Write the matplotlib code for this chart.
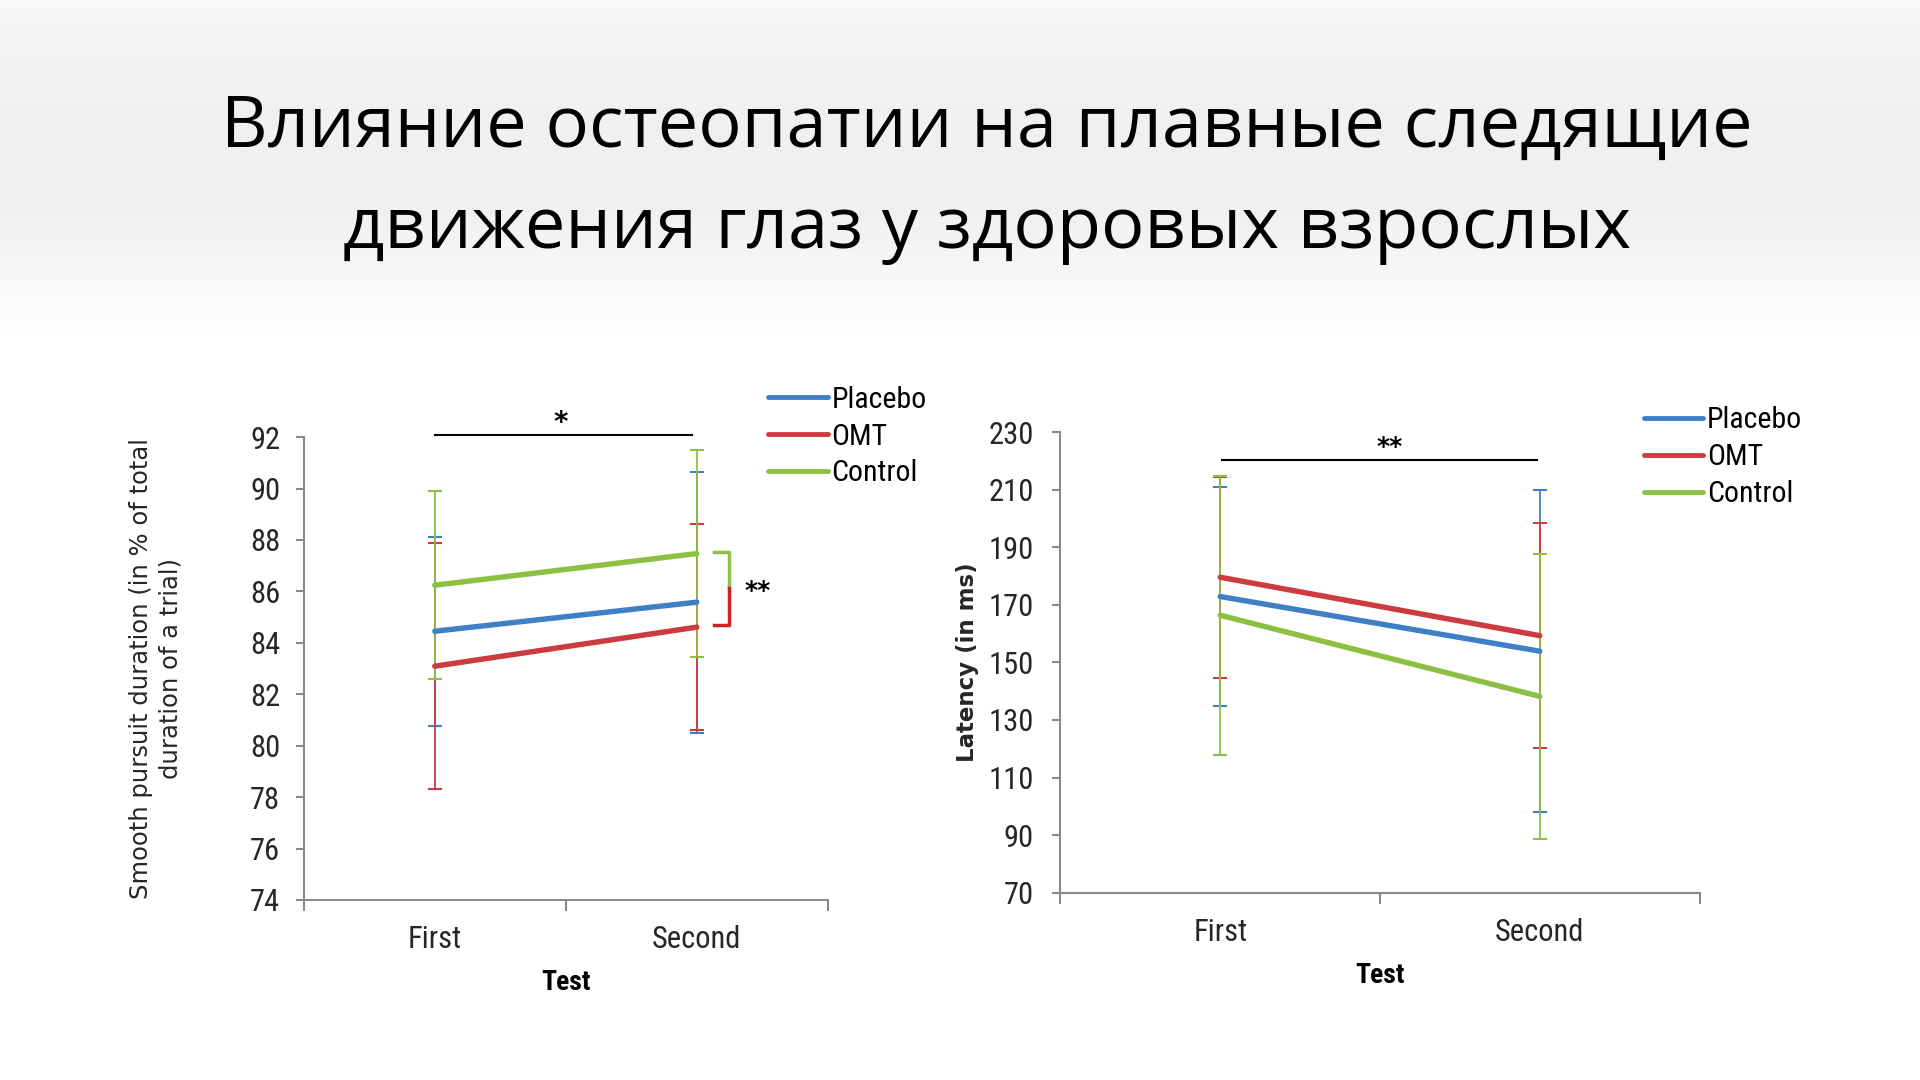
import numpy as np
import matplotlib
matplotlib.use("Agg")
import matplotlib.pyplot as plt
from matplotlib.lines import Line2D

# ---------------- data ----------------
tests = ["First", "Second"]
groups = ["Placebo", "OMT", "Control"]
colors = {"Placebo": "#3f7fc6", "OMT": "#cc3b3f", "Control": "#8cc043"}

# Smooth pursuit duration (% of trial)
sp_placebo = [84.45, 85.58]
sp_omt = [83.09, 84.61]
sp_control = [86.24, 87.47]
sp_err_placebo = [3.68, 5.07]
sp_err_omt = [4.78, 4.01]
sp_err_control = [3.66, 4.03]

# Latency (ms)
lat_placebo = [172.9, 153.9]
lat_omt = [179.6, 159.3]
lat_control = [166.4, 138.2]
lat_err_placebo = [37.9, 56.0]
lat_err_omt = [35.0, 39.0]
lat_err_control = [48.5, 49.4]

sp_ticks = [74, 76, 78, 80, 82, 84, 86, 88, 90, 92]
lat_ticks = [70, 90, 110, 130, 150, 170, 190, 210, 230]

title_lines = ["Влияние остеопатии на плавные следящие",
               "движения глаз у здоровых взрослых"]

# ---------------- style ----------------
NUM_FONT = ["Roboto Condensed", "Liberation Sans Narrow", "DejaVu Sans"]
plt.rcParams["font.family"] = ["DejaVu Sans"]
SPINE = "#8a8a8a"
TXT = "#262626"

fig = plt.figure(figsize=(19.2, 10.8), dpi=100)
fig.patch.set_facecolor("white")

# background gradient band at top
bg = fig.add_axes([0, 0, 1, 1], zorder=-10)
t = np.linspace(0, 1, 1080)
col = np.interp(t, [0, 0.04, 0.1, 0.2, 0.31, 1.0], [0.975, 0.955, 0.945, 0.945, 1.0, 1.0])
img = np.repeat(np.dstack([col, col, col]).reshape(-1, 1, 3), 4, axis=1)
bg.imshow(img, aspect="auto", extent=[0, 1, 0, 1], origin="upper", interpolation="bilinear")
bg.set_xlim(0, 1)
bg.set_ylim(0, 1)
bg.set_axis_off()

for i, line in enumerate(title_lines):
    fig.text(0.514, 0.881 - i * 0.093, line, ha="center", va="center",
             fontsize=52, family=["Open Sans", "DejaVu Sans"], color="black")


def setup_axes(ax, ymin, ymax, ticks, ypad):
    ax.set_xlim(-0.5, 1.5)
    ax.set_ylim(ymin, ymax)
    for s in ["top", "right"]:
        ax.spines[s].set_visible(False)
    for s in ["left", "bottom"]:
        ax.spines[s].set_color(SPINE)
        ax.spines[s].set_linewidth(1.5)
    ax.set_yticks(ticks)
    ax.set_yticklabels([str(tk) for tk in ticks], family=NUM_FONT, fontsize=22, color=TXT)
    ax.set_xticks([0, 1])
    ax.set_xticklabels(tests, family=NUM_FONT, fontsize=22, color=TXT)
    ax.set_xticks([-0.5, 0.5, 1.5], minor=True)
    ax.tick_params(axis="x", which="major", length=0, pad=18)
    ax.tick_params(axis="x", which="minor", length=8, width=1.5, color=SPINE, direction="out")
    ax.tick_params(axis="y", length=6, width=1.5, color=SPINE, direction="out", pad=ypad)
    ax.set_xlabel("Test", fontsize=20, fontweight="bold", family=NUM_FONT, color="black", labelpad=11)
    ax.set_facecolor("none")


def draw_series(ax, vals, errs):
    x = np.arange(len(tests))
    for name in groups:
        ax.errorbar(x, vals[name], yerr=errs[name], fmt="none", ecolor=colors[name],
                    elinewidth=1.3, capsize=5, capthick=1.5, zorder=2, clip_on=False)
    for name in ["Control", "Placebo", "OMT"]:
        ax.plot(x, vals[name], color=colors[name], lw=3.9, solid_capstyle="round",
                zorder=3, label=name)


legend_kw = dict(loc="upper left", frameon=False, handlelength=2.0,
                 handletextpad=0.12, labelspacing=0.3, borderaxespad=0, borderpad=0,
                 prop={"family": NUM_FONT, "size": 21.5})

# -------- left chart --------
axL = fig.add_axes([0.1582, 0.1667, 0.2730, 0.4286])
setup_axes(axL, 74, 92, sp_ticks, ypad=11)
draw_series(axL,
            {"Placebo": sp_placebo, "OMT": sp_omt, "Control": sp_control},
            {"Placebo": sp_err_placebo, "OMT": sp_err_omt, "Control": sp_err_control})
axL.set_ylabel("Smooth pursuit duration (in % of total\nduration of a trial)",
               fontsize=17.5, color=TXT, linespacing=1.25)
axL.yaxis.set_label_coords(-0.232, 0.5)
# significance: test effect
axL.plot([0, 0.98], [92.1, 92.1], color="black", lw=1.5, clip_on=False)
axL.text(0.48, 92.55, "*", ha="center", va="center", fontsize=20, fontweight="bold", clip_on=False)
# bracket Control vs OMT
bx = 1.124
axL.plot([1.065, bx, bx], [sp_control[1] + 0.08, sp_control[1] + 0.08, 86.15],
         color=colors["Control"], lw=2.5, clip_on=False)
axL.plot([bx, bx, 1.065], [86.15, sp_omt[1] + 0.1, sp_omt[1] + 0.1],
         color="#d0202a", lw=2.5, clip_on=False)
axL.text(1.23, 86.0, "**", ha="center", va="center", fontsize=18, fontweight="bold", clip_on=False)

hL = [Line2D([], [], color=colors[n], lw=3.5, solid_capstyle="round") for n in groups]
axL.legend(hL, groups, bbox_to_anchor=(0.400, 0.643), bbox_transform=fig.transFigure, **legend_kw)

# -------- right chart --------
axR = fig.add_axes([0.5523, 0.1735, 0.3329, 0.4263])
setup_axes(axR, 70, 230, lat_ticks, ypad=13)
draw_series(axR,
            {"Placebo": lat_placebo, "OMT": lat_omt, "Control": lat_control},
            {"Placebo": lat_err_placebo, "OMT": lat_err_omt, "Control": lat_err_control})
axR.set_ylabel("Latency (in ms)", fontsize=16.5, fontweight="bold", color=TXT)
axR.yaxis.set_label_coords(-0.128, 0.5)
axR.plot([0.005, 0.99], [220.2, 220.2], color="black", lw=1.5, clip_on=False)
axR.text(0.53, 225.0, "**", ha="center", va="center", fontsize=18, fontweight="bold", clip_on=False)

hR = [Line2D([], [], color=colors[n], lw=3.5, solid_capstyle="round") for n in groups]
axR.legend(hR, groups, bbox_to_anchor=(0.856, 0.624), bbox_transform=fig.transFigure, **legend_kw)

fig.savefig("out.png", dpi=100)
